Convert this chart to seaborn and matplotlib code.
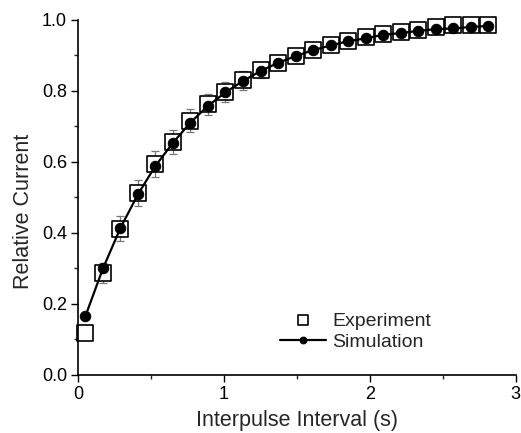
import numpy as np
import pandas as pd
import matplotlib
matplotlib.use("Agg")
import matplotlib.pyplot as plt
import seaborn as sns

# Paired-pulse recovery: measured vs. simulated relative current
interval_s = [0.05, 0.17, 0.29, 0.41, 0.53, 0.65, 0.77, 0.89, 1.01, 1.13,
              1.25, 1.37, 1.49, 1.61, 1.73, 1.85, 1.97, 2.09, 2.21, 2.33,
              2.45, 2.57, 2.69, 2.81]
experiment = [0.118, 0.286, 0.412, 0.512, 0.595, 0.656, 0.716, 0.762, 0.798, 0.830,
              0.858, 0.880, 0.898, 0.915, 0.930, 0.942, 0.952, 0.960, 0.967, 0.972,
              0.979, 0.985, 0.986, 0.987]
experiment_err = [0.0, 0.028, 0.035, 0.037, 0.037, 0.035, 0.033, 0.029, 0.028, 0.026,
                  0.022, 0.020, 0.018, 0.017, 0.016, 0.016, 0.016, 0.015, 0.015, 0.015,
                  0.015, 0.015, 0.015, 0.015]
simulation = [0.166, 0.300, 0.414, 0.509, 0.589, 0.654, 0.711, 0.758, 0.796, 0.828,
              0.856, 0.879, 0.898, 0.915, 0.928, 0.940, 0.948, 0.958, 0.963, 0.969,
              0.974, 0.976, 0.980, 0.983]

df = pd.DataFrame({"interval": interval_s, "exp": experiment,
                   "err": experiment_err, "sim": simulation})

sns.set_style("ticks")
plt.rcParams["font.family"] = ["Liberation Sans", "DejaVu Sans"]

fig = plt.figure(figsize=(5.21, 4.33), dpi=100)
ax = fig.add_axes([0.150, 0.134, 0.840, 0.820])

ax.errorbar(df["interval"], df["exp"], yerr=df["err"], fmt="none",
            ecolor="#777777", elinewidth=0.9, capsize=3, capthick=0.9,
            zorder=1, clip_on=False)
sns.scatterplot(data=df, x="interval", y="exp", marker="s", s=125,
                facecolor="white", edgecolor="black", linewidth=1.2,
                label="Experiment", ax=ax, zorder=2, clip_on=False)
sns.lineplot(data=df, x="interval", y="sim", marker="o", markersize=7.5,
             color="black", linewidth=1.6, markeredgecolor="black",
             label="Simulation", ax=ax, zorder=3, clip_on=False)

ax.set_xlim(0, 3)
ax.set_ylim(0, 1.0)
ax.set_xticks([0, 1, 2, 3])
ax.set_xticks([0.5, 1.5, 2.5], minor=True)
ax.set_yticks([0.0, 0.2, 0.4, 0.6, 0.8, 1.0])
ax.set_yticks(np.arange(0.1, 1.0, 0.2), minor=True)
ax.set_yticklabels([f"{v:.1f}" for v in [0.0, 0.2, 0.4, 0.6, 0.8, 1.0]])
ax.tick_params(axis="both", which="major", direction="out", length=5,
               width=1, labelsize=13, colors="black", pad=3)
ax.tick_params(axis="both", which="minor", direction="out", length=3, width=1)
ax.set_xlabel("Interpulse Interval (s)", fontsize=15.5, labelpad=5)
ax.set_ylabel("Relative Current", fontsize=15.5, labelpad=6, y=0.462)
for side in ["left", "bottom"]:
    ax.spines[side].set_linewidth(1.2)
    ax.spines[side].set_color("black")
sns.despine(ax=ax)

leg = ax.legend(loc="lower right", bbox_to_anchor=(0.846, 0.018), frameon=False,
                fontsize=14, handlelength=2.4, handletextpad=0.3,
                labelspacing=0.2, markerscale=0.65)

fig.savefig("out.png", dpi=100)
